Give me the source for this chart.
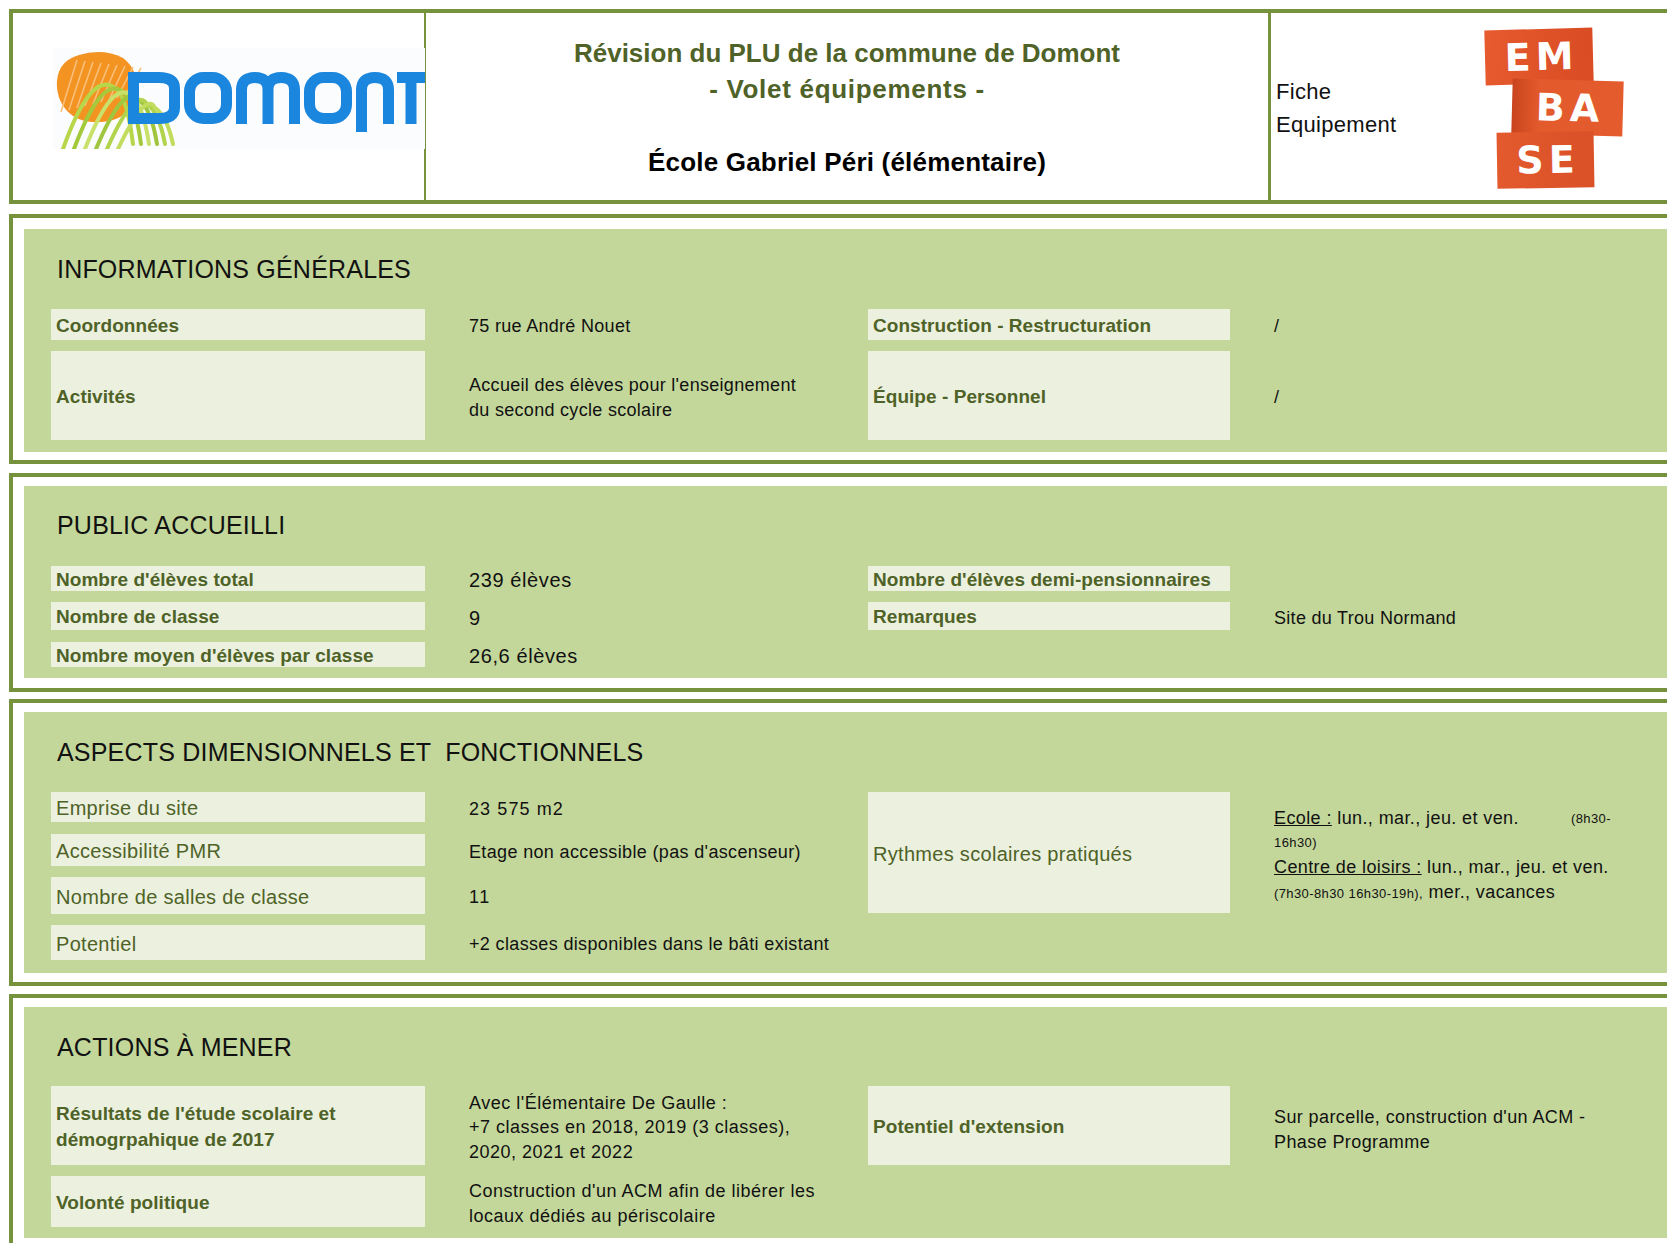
<!DOCTYPE html>
<html lang="fr">
<head>
<meta charset="utf-8">
<script src="https://cdn.jsdelivr.net/npm/chart.js@4.4.1/dist/chart.umd.min.js"></script>
<style>
  html, body { margin:0; padding:0; }
  body { width:1667px; height:1243px; position:relative; overflow:hidden; background:#fff;
         font-family:"Liberation Sans", Arial, sans-serif; color:#111; }
  .abs { position:absolute; }
  .box { position:absolute; border:4px solid #76923C; background:#fff; box-sizing:border-box; }
  .green { position:absolute; background:#C4D79B; }
  .cell { position:absolute; background:#EBF1DE; display:flex; align-items:center; box-sizing:border-box;
          padding-left:5px; padding-top:2px; color:#4F6228; white-space:pre; }
  .lab-b { font-weight:bold; font-size:19px; line-height:26px; letter-spacing:0.05px; }
  .lab-r { font-weight:normal; font-size:20px; line-height:26px; letter-spacing:0.3px; }
  .val { position:absolute; display:flex; align-items:center; white-space:pre; font-size:18px;
         line-height:24.5px; letter-spacing:0.35px; color:#111; }
  .head { position:absolute; font-size:25px; line-height:30px; white-space:pre; color:#111; letter-spacing:0.2px; }
  .title { position:absolute; left:425px; width:844px; text-align:center; font-weight:bold; font-size:26px;
           line-height:30px; white-space:pre; }
</style>
</head>
<body>
<script>
// ---------- DATA ----------
const headerTitle = "Révision du PLU de la commune de Domont";
const headerSubtitle = "- Volet équipements -";
const facilityName = "École Gabriel Péri (élémentaire)";
const sheetType = ["Fiche", "Equipement"];
const logoDomontLetters = ["D", "O", "M", "O", "N", "T"];
const logoEmbaseRows = ["EM", "BA", "SE"];

const sectionTitles = ["INFORMATIONS GÉNÉRALES", "PUBLIC ACCUEILLI", "ASPECTS DIMENSIONNELS ET  FONCTIONNELS", "ACTIONS À MENER"];

const infoLabelsLeft = ["Coordonnées", "Activités"];
const infoValuesLeft = ["75 rue André Nouet", "Accueil des élèves pour l'enseignement\ndu second cycle scolaire"];
const infoLabelsRight = ["Construction - Restructuration", "Équipe - Personnel"];
const infoValuesRight = ["/", "/"];

const publicLabelsLeft = ["Nombre d'élèves total", "Nombre de classe", "Nombre moyen d'élèves par classe"];
const publicValuesLeft = ["239 élèves", "9", "26,6 élèves"];
const publicLabelsRight = ["Nombre d'élèves demi-pensionnaires", "Remarques"];
const publicValuesRight = ["", "Site du Trou Normand"];

const aspectLabelsLeft = ["Emprise du site", "Accessibilité PMR", "Nombre de salles de classe", "Potentiel"];
const aspectValuesLeft = ["23 575 m2", "Etage non accessible (pas d'ascenseur)", "11", "+2 classes disponibles dans le bâti existant"];
const aspectLabelsRight = ["Rythmes scolaires pratiqués"];
const rythmesSchool = ["Ecole :", " lun., mar., jeu. et ven.", "(8h30-", "16h30)"];
const rythmesLeisure = ["Centre de loisirs :", " lun., mar., jeu. et ven.", "(7h30-8h30 16h30-19h),", " mer., vacances"];

const actionLabelsLeft = ["Résultats de l'étude scolaire et\ndémogrpahique de 2017", "Volonté politique"];
const actionValuesLeft = ["Avec l'Élémentaire De Gaulle :\n+7 classes en 2018, 2019 (3 classes),\n2020, 2021 et 2022",
                          "Construction d'un ACM afin de libérer les\nlocaux dédiés au périscolaire"];
const actionLabelsRight = ["Potentiel d'extension"];
const actionValuesRight = ["Sur parcelle, construction d'un ACM -\nPhase Programme"];

// ---------- LAYOUT ----------
const B = document.body;
function el(tag, cls, css, html) {
  const e = document.createElement(tag);
  if (cls) e.className = cls;
  if (css) Object.assign(e.style, css);
  if (html !== undefined) e.innerHTML = html;
  B.appendChild(e);
  return e;
}
const esc = s => s.replace(/&/g,"&amp;").replace(/</g,"&lt;");
const LX = 51, LW = 374, RX = 868, RW = 362, VLX = 469, VRX = 1274;

// header frame
el("div", "box", {left:"9px", top:"9px", width:"1700px", height:"195px"});
el("div", "abs", {left:"424px", top:"13px", width:"2px", height:"187px", background:"#76923C"});
el("div", "abs", {left:"1268px", top:"13px", width:"3px", height:"187px", background:"#76923C"});

el("div", "title", {top:"38px", color:"#4F6228"}, esc(headerTitle));
el("div", "title", {top:"74px", color:"#4F6228", letterSpacing:"0.7px"}, esc(headerSubtitle));
el("div", "title", {top:"147px", color:"#000", letterSpacing:"0.2px"}, esc(facilityName));
sheetType.forEach((t, i) => el("div", "abs", {left:"1276px", top:(79 + i*33) + "px", fontSize:"22px",
  lineHeight:"26px", letterSpacing:"0.3px", color:"#111"}, esc(t)));

// Domont logo (SVG)
(function(){
  const ns = "http://www.w3.org/2000/svg";
  const svg = document.createElementNS(ns, "svg");
  svg.setAttribute("width", "372"); svg.setAttribute("height", "101");
  Object.assign(svg.style, {position:"absolute", left:"53px", top:"48px"});
  const blue = "#1B86DD";
  const sw = 11;
  let parts = '<rect x="0" y="0" width="372" height="101" fill="#FBFCFD"/>';
  // sun
  parts += '<path d="M4 40 Q2 14 26 7 Q50 0 70 10 Q86 22 83 44 Q80 66 60 72 Q36 78 20 68 Q6 58 4 40 Z" fill="#F39322"/>';
  for (let k = 0; k < 9; k++) {
    const x = 8 + k*8;
    parts += '<path d="M' + x + ' ' + (64 - k*2) + ' L' + (x + 16) + ' ' + (12 + k) + '" stroke="#F8C07A" stroke-width="1.6" fill="none"/>';
  }
  // green swooshes
  const gr = ["#B7D64A", "#A4C93A", "#C9E06A", "#9FC63E", "#B2D34C", "#C2DC5E"];
  for (let k = 0; k < 6; k++) {
    const x0 = 10 + k*11, x1 = 62 + k*8, peak = 40 + k*4;
    parts += '<path d="M' + x0 + ' 101 Q' + (x0 + 28) + ' ' + (peak - 18) + ' ' + (x1) + ' ' + (peak) +
             ' Q' + (x1 + 12) + ' ' + (peak + 8) + ' ' + (x1 + 18) + ' 96" stroke="' + gr[k] + '" stroke-width="4" fill="none" stroke-linecap="round"/>';
  }
  // letters (top 24, bottom 76 in svg coords)
  const t = 24 + sw/2, b = 76 - sw/2;
  parts += '<path d="M80.5 ' + t + ' H106 Q121.5 ' + t + ' 121.5 40 V60 Q121.5 ' + b + ' 106 ' + b + ' H80.5 Z" stroke="' + blue + '" stroke-width="' + sw + '" fill="none"/>';
  parts += '<rect x="' + (131 + sw/2) + '" y="' + t + '" width="' + (48 - sw) + '" height="' + (b - t) + '" rx="14" stroke="' + blue + '" stroke-width="' + sw + '" fill="none"/>';
  parts += '<path d="M' + (183 + sw/2) + ' 76 V42 Q188.5 ' + t + ' 202 ' + t + ' Q215 ' + t + ' 215 42 V76 M215 42 Q215 ' + t + ' 228 ' + t + ' Q241.5 ' + t + ' 241.5 42 V76" stroke="' + blue + '" stroke-width="' + sw + '" fill="none"/>';
  parts += '<rect x="' + (251 + sw/2) + '" y="' + t + '" width="' + (48 - sw) + '" height="' + (b - t) + '" rx="14" stroke="' + blue + '" stroke-width="' + sw + '" fill="none"/>';
  parts += '<path d="M' + (303 + sw/2) + ' 84 V42 Q308.5 ' + t + ' 322 ' + t + ' Q335.5 ' + t + ' 335.5 42 V76" stroke="' + blue + '" stroke-width="' + sw + '" fill="none"/>';
  parts += '<path d="M344 ' + t + ' H372 M358 ' + t + ' V76" stroke="' + blue + '" stroke-width="' + sw + '" fill="none"/>';
  svg.innerHTML = parts;
  svg.setAttribute("aria-label", logoDomontLetters.join(""));
  B.appendChild(svg);
})();

// EMBASE logo
const embaseBlocks = [
  {l:1485, t:29, w:108, h:55, r:-1.5, bg:"linear-gradient(90deg,#E65A2E,#D94C24)"},
  {l:1512, t:80, w:111, h:55, r:1.5, bg:"linear-gradient(90deg,#C9451F,#E35A2C 25%,#E45B2D)"},
  {l:1497, t:132, w:97, h:56, r:-1, bg:"linear-gradient(90deg,#E35A2E,#DA5027)"}
];
embaseBlocks.forEach((bk, i) => {
  el("div", "abs", {left:bk.l+"px", top:bk.t+"px", width:bk.w+"px", height:bk.h+"px", background:bk.bg,
    transform:"rotate(" + bk.r + "deg)", display:"flex", alignItems:"center", justifyContent:"center",
    color:"#fff", fontFamily:"'DejaVu Sans', sans-serif", fontWeight:"bold", fontSize:"38px", letterSpacing:"5px",
    paddingLeft:"5px", boxSizing:"border-box"}, logoEmbaseRows[i]);
});

// sections
const sections = [
  {top:214, h:250, gTop:229, gBot:452, hy:269},
  {top:473, h:219, gTop:486, gBot:678, hy:525},
  {top:699, h:287, gTop:712, gBot:973, hy:752},
  {top:994, h:400, gTop:1007, gBot:1238, hy:1047}
];
sections.forEach((s, i) => {
  el("div", "box", {left:"9px", top:s.top+"px", width:"1700px", height:s.h+"px"});
  el("div", "green", {left:"24px", top:s.gTop+"px", width:"1700px", height:(s.gBot - s.gTop)+"px"});
  el("div", "head", {left:"57px", top:(s.hy - 15)+"px"}, esc(sectionTitles[i]));
});

function cell(x, w, y0, y1, text, cls) {
  el("div", "cell " + cls, {left:x+"px", top:y0+"px", width:w+"px", height:(y1-y0)+"px"}, esc(text));
}
function val(x, y0, y1, text, css) {
  el("div", "val", Object.assign({left:x+"px", top:(y0 + 2)+"px", height:(y1-y0)+"px"}, css || {}), esc(text));
}

// Section 1
const s1Rows = [[309,340],[351,440]];
infoLabelsLeft.forEach((t,i) => { cell(LX, LW, s1Rows[i][0], s1Rows[i][1], t, "lab-b"); val(VLX, s1Rows[i][0], s1Rows[i][1], infoValuesLeft[i], {letterSpacing:"0.3px"}); });
infoLabelsRight.forEach((t,i) => { cell(RX, RW, s1Rows[i][0], s1Rows[i][1], t, "lab-b"); val(VRX, s1Rows[i][0], s1Rows[i][1], infoValuesRight[i]); });

// Section 2
const s2Rows = [[566,591],[602,630],[642,667]];
publicLabelsLeft.forEach((t,i) => { cell(LX, LW, s2Rows[i][0], s2Rows[i][1], t, "lab-b");
  val(VLX, s2Rows[i][0]-2, s2Rows[i][1]+2, publicValuesLeft[i], {fontSize:"20px", letterSpacing:"0.6px"}); });
publicLabelsRight.forEach((t,i) => { cell(RX, RW, s2Rows[i][0], s2Rows[i][1], t, "lab-b");
  val(VRX, s2Rows[i][0], s2Rows[i][1], publicValuesRight[i], {letterSpacing:"0.3px"}); });

// Section 3
const s3Rows = [[792,822],[834,866],[877,914],[925,960]];
aspectLabelsLeft.forEach((t,i) => { cell(LX, LW, s3Rows[i][0], s3Rows[i][1], t, "lab-r");
  val(VLX, s3Rows[i][0], s3Rows[i][1], aspectValuesLeft[i], i === 0 ? {letterSpacing:"1.1px"} : (i === 2 ? {letterSpacing:"1.5px"} : {})); });
cell(RX, RW, 792, 913, aspectLabelsRight[0], "lab-r");
(function(){
  const base = {position:"absolute", left:VRX+"px", fontSize:"18px", lineHeight:"24px", letterSpacing:"0.4px", whiteSpace:"pre", color:"#111"};
  const small = 'font-size:13px;letter-spacing:0.4px;';
  el("div", "", Object.assign({}, base, {top:"806px"}), '<u>' + esc(rythmesSchool[0]) + '</u>' + esc(rythmesSchool[1]));
  el("div", "", Object.assign({}, base, {left:"1571px", top:"807px", fontSize:"13px"}), esc(rythmesSchool[2]));
  el("div", "", Object.assign({}, base, {top:"831px", fontSize:"13px"}), esc(rythmesSchool[3]));
  el("div", "", Object.assign({}, base, {top:"855px"}), '<u>' + esc(rythmesLeisure[0]) + '</u>' + esc(rythmesLeisure[1]));
  el("div", "", Object.assign({}, base, {top:"880px"}), '<span style="' + small + '">' + esc(rythmesLeisure[2]) + '</span>' + esc(rythmesLeisure[3]));
})();

// Section 4
const s4Rows = [[1086,1165],[1176,1227]];
actionLabelsLeft.forEach((t,i) => { cell(LX, LW, s4Rows[i][0], s4Rows[i][1], t, "lab-b");
  val(VLX, s4Rows[i][0], s4Rows[i][1], actionValuesLeft[i], {letterSpacing:"0.5px"}); });
actionLabelsRight.forEach((t,i) => { cell(RX, RW, s4Rows[i][0], s4Rows[i][1], t, "lab-b");
  val(VRX, s4Rows[i][0] + 2, s4Rows[i][1] + 2, actionValuesRight[i], {letterSpacing:"0.4px"}); });
</script>
</body>
</html>
